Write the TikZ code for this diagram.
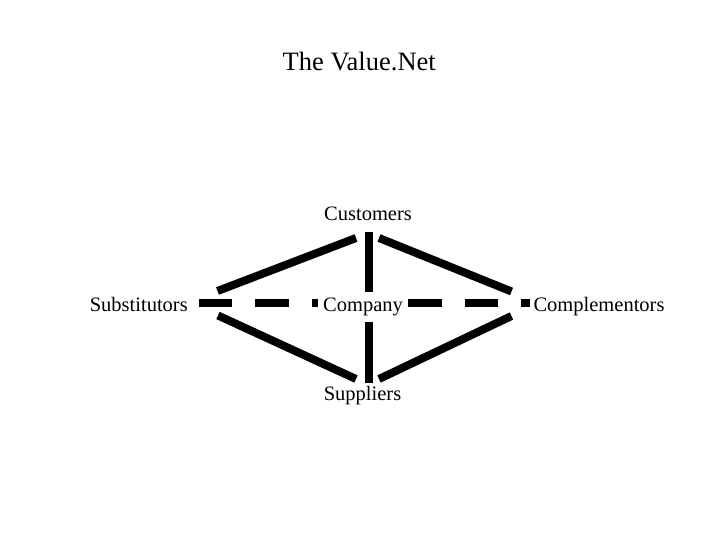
\documentclass[tikz,border=0pt]{standalone}
\usepackage{fontspec}
\setmainfont{Liberation Serif}
\begin{document}
\begin{tikzpicture}[x=1pt,y=-1pt,
  lbl/.style={anchor=base,inner sep=0pt,font=\fontsize{20.5}{24}\selectfont},
  ttl/.style={anchor=base,inner sep=0pt,font=\fontsize{26.5}{30}\selectfont},
  thickline/.style={line width=8pt,line cap=butt},
  dashline/.style={line width=8pt,line cap=butt,dash pattern=on 33.3pt off 23pt}]
\fill[white] (0,0) rectangle (720,540);
\useasboundingbox (0,0) rectangle (720,540);
% labels
\node[ttl] (title) at (359.2,70.7) {The Value.Net};
\node[lbl] (cust) at (368,221) {Customers};
\node[lbl] (subs) at (138.8,311.7) {Substitutors};
\node[lbl] (comp) at (363,311.7) {Company};
\node[lbl] (cmpl) at (599,311.7) {Complementors};
\node[lbl] (supp) at (362.5,400.5) {Suppliers};
% connector end points
\coordinate (subsR) at (199,303.3);
\coordinate (compL) at (318.3,303.3);
\coordinate (compR) at (408.3,303.3);
\coordinate (cmplL) at (530,303.3);
\coordinate (custB) at (368.7,231.7);
\coordinate (compT) at (368.7,292);
\coordinate (compB) at (368.7,322);
\coordinate (suppT) at (368.7,383.3);
\coordinate (ulA) at (217.5,291);
\coordinate (ulB) at (356,238);
\coordinate (urA) at (379,238);
\coordinate (urB) at (511.5,291.5);
\coordinate (llA) at (218,315.5);
\coordinate (llB) at (356,379);
\coordinate (lrA) at (379,379);
\coordinate (lrB) at (511.5,316);
% connectors
\draw[dashline] (subsR) -- (compL);
\draw[dashline] (compR) -- (cmplL);
\draw[thickline] (custB) -- (compT);
\draw[thickline] (compB) -- (suppT);
\draw[thickline] (ulA) -- (ulB);
\draw[thickline] (urA) -- (urB);
\draw[thickline] (llA) -- (llB);
\draw[thickline] (lrA) -- (lrB);
\end{tikzpicture}
\end{document}
